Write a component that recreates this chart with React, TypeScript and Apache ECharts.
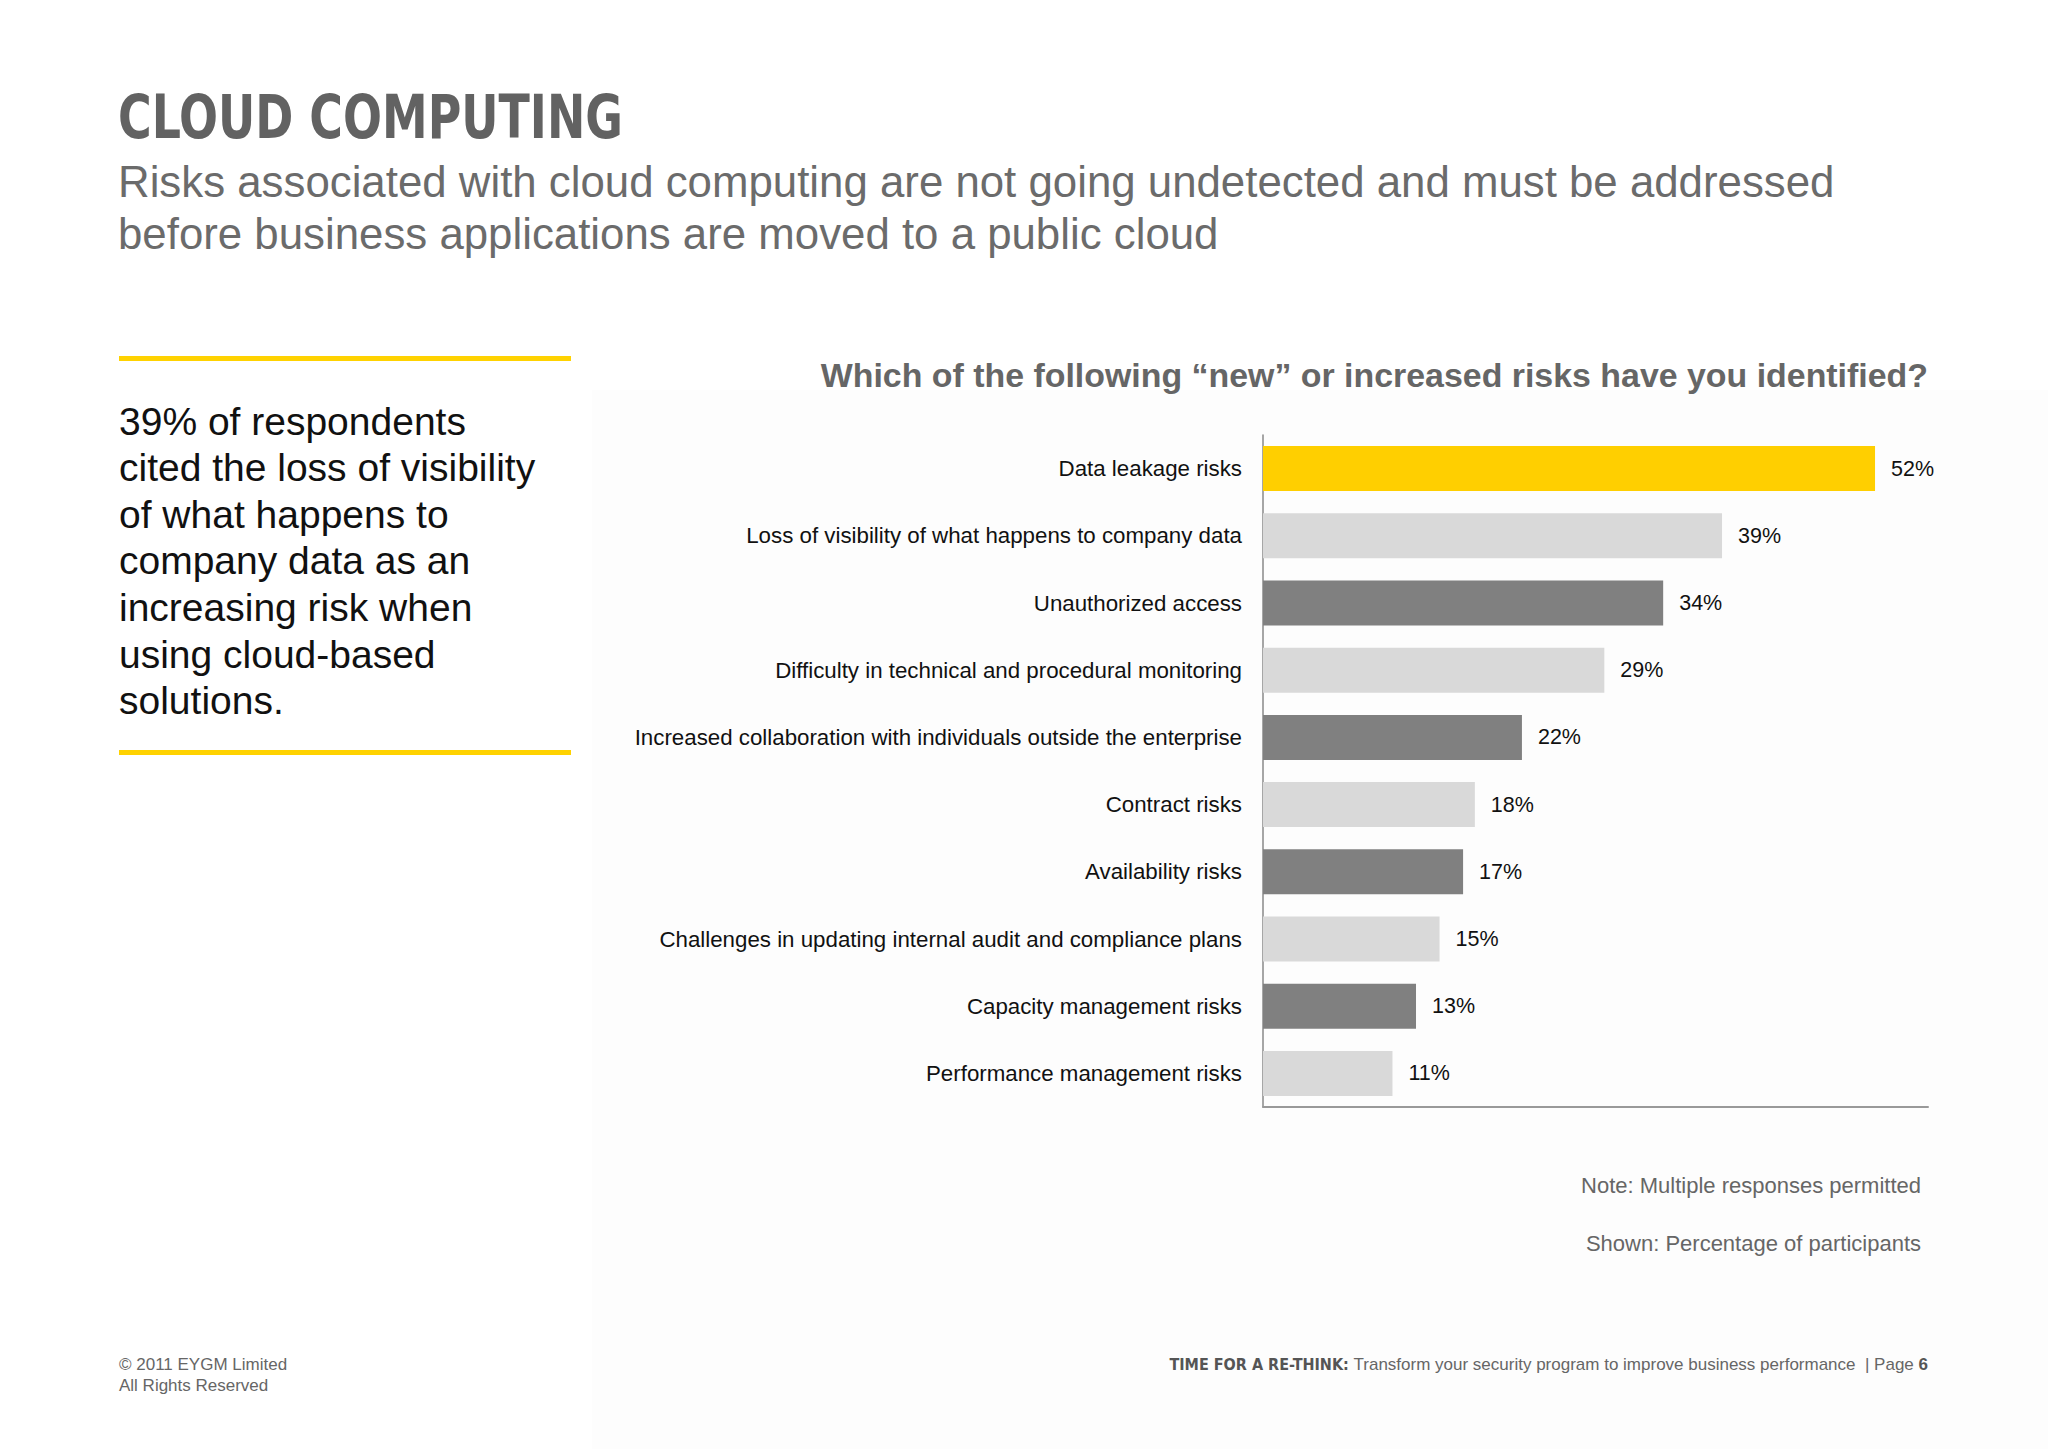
import React, { useEffect, useRef } from "react";
import * as echarts from "echarts";

const categories = [
  "Data leakage risks",
  "Loss of visibility of what happens to company data",
  "Unauthorized access",
  "Difficulty in technical and procedural monitoring",
  "Increased collaboration with individuals outside the enterprise",
  "Contract risks",
  "Availability risks",
  "Challenges in updating internal audit and compliance plans",
  "Capacity management risks",
  "Performance management risks",
];
const values = [52, 39, 34, 29, 22, 18, 17, 15, 13, 11];
const barColors = [
  "#FFCF00", "#D9D9D9", "#808080", "#D9D9D9", "#808080",
  "#D9D9D9", "#808080", "#D9D9D9", "#808080", "#D9D9D9",
];
const calloutLines = [
  "39% of respondents",
  "cited the loss of visibility",
  "of what happens to",
  "company data as an",
  "increasing risk when",
  "using cloud-based",
  "solutions.",
];
const subtitleLines = [
  "Risks associated with cloud computing are not going undetected and must be addressed",
  "before business applications are moved to a public cloud",
];

const SANS = "Liberation Sans, Arial, sans-serif";

export default function App() {
  const ref = useRef<HTMLDivElement>(null);
  useEffect(() => {
    if (!ref.current) return;
    const chart = echarts.init(ref.current, null, { renderer: "svg" });
    const graphics: any[] = [
      {
        type: "rect",
        shape: { x: 592, y: 390, width: 1456, height: 1059 },
        style: { fill: "#fdfdfd" },
        z: -10,
      },
      {
        type: "text",
        x: 118,
        y: 117,
        scaleX: 0.85,
        style: {
          text: "CLOUD COMPUTING",
          font: "bold 60px 'Liberation Sans Narrow', 'DejaVu Sans Condensed', sans-serif",
          fill: "#626262",
          verticalAlign: "middle",
        },
      },
      ...subtitleLines.map((t, i) => ({
        type: "text",
        x: 118,
        y: 181 + i * 52,
        style: {
          text: t,
          font: `43.8px ${SANS}`,
          fill: "#6b6b6b",
          verticalAlign: "middle",
        },
      })),
      {
        type: "rect",
        shape: { x: 119, y: 356, width: 452, height: 5 },
        style: { fill: "#FFD200" },
      },
      {
        type: "rect",
        shape: { x: 119, y: 750, width: 452, height: 5 },
        style: { fill: "#FFD200" },
      },
      ...calloutLines.map((t, i) => ({
        type: "text",
        x: 119,
        y: 421 + i * 46.6,
        style: {
          text: t,
          font: `39px ${SANS}`,
          fill: "#111111",
          verticalAlign: "middle",
        },
      })),
      {
        type: "text",
        x: 1928,
        y: 375,
        style: {
          text: "Which of the following \u201cnew\u201d or increased risks have you identified?",
          font: `bold 33.9px ${SANS}`,
          fill: "#666666",
          align: "right",
          verticalAlign: "middle",
        },
      },
      {
        type: "text",
        x: 1921,
        y: 1185,
        style: {
          text: "Note: Multiple responses permitted",
          font: `22px ${SANS}`,
          fill: "#666666",
          align: "right",
          verticalAlign: "middle",
        },
      },
      {
        type: "text",
        x: 1921,
        y: 1243,
        style: {
          text: "Shown: Percentage of participants",
          font: `22px ${SANS}`,
          fill: "#666666",
          align: "right",
          verticalAlign: "middle",
        },
      },
      {
        type: "text",
        x: 119,
        y: 1364,
        style: {
          text: "\u00a9 2011 EYGM Limited",
          font: `17px ${SANS}`,
          fill: "#666666",
          verticalAlign: "middle",
        },
      },
      {
        type: "text",
        x: 119,
        y: 1385,
        style: {
          text: "All Rights Reserved",
          font: `17px ${SANS}`,
          fill: "#666666",
          verticalAlign: "middle",
        },
      },
      {
        type: "text",
        x: 1928,
        y: 1364,
        style: {
          text:
            "{a|TIME FOR A RE-THINK:}{b| Transform your security program to improve business performance  | Page }{c|6}",
          align: "right",
          verticalAlign: "middle",
          fill: "#666666",
          rich: {
            a: {
              fontFamily: "'Liberation Sans Narrow', 'DejaVu Sans Condensed', sans-serif",
              fontWeight: 900,
              fontSize: 16,
              fill: "#555555",
            },
            b: { fontFamily: SANS, fontSize: 17, fill: "#666666" },
            c: { fontFamily: SANS, fontSize: 17, fontWeight: "bold", fill: "#555555" },
          },
        },
      },
    ];

    chart.setOption({
      animation: false,
      backgroundColor: "#ffffff",
      grid: { left: 1263, right: 120, top: 435, bottom: 342, containLabel: false },
      xAxis: {
        type: "value",
        min: 0,
        max: 56.5,
        axisLine: { show: true, lineStyle: { color: "#999999", width: 2 } },
        axisTick: { show: false },
        axisLabel: { show: false },
        splitLine: { show: false },
      },
      yAxis: {
        type: "category",
        inverse: true,
        data: categories,
        axisLine: { show: true, lineStyle: { color: "#888888", width: 1.5 } },
        axisTick: { show: false },
        axisLabel: {
          margin: 21,
          fontFamily: SANS,
          fontSize: 22.3,
          color: "#111111",
        },
      },
      series: [
        {
          type: "bar",
          barWidth: 45,
          data: values.map((v, i) => ({ value: v, itemStyle: { color: barColors[i] } })),
          label: {
            show: true,
            position: "right",
            distance: 16,
            formatter: "{c}%",
            fontFamily: SANS,
            fontSize: 21.5,
            color: "#111111",
          },
        },
      ],
      graphic: graphics,
    });
    return () => chart.dispose();
  }, []);
  return (
    <div
      ref={ref}
      style={{ position: "fixed", left: 0, top: 0, width: 2048, height: 1449 }}
    />
  );
}
